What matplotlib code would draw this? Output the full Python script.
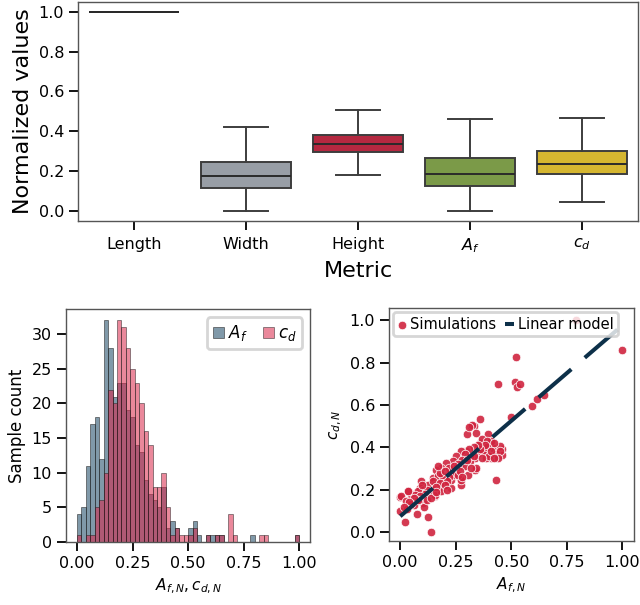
import numpy as np
import matplotlib
matplotlib.use("Agg")
import matplotlib.pyplot as plt

###############################################################
# Data
###############################################################

# Top panel: box statistics of the normalized metrics
metrics = ["Length", "Width", "Height", "$A_f$", "$c_d$"]
box_whislo = [1.0, 0.000, 0.182, 0.000, 0.044]
box_q1 = [1.0, 0.117, 0.295, 0.125, 0.187]
box_med = [1.0, 0.174, 0.337, 0.184, 0.235]
box_q3 = [1.0, 0.247, 0.381, 0.264, 0.300]
box_whishi = [1.0, 0.420, 0.509, 0.461, 0.467]
box_colors = ["#9a9a9a", "#989ea6", "#b52840", "#7b9a48", "#d5b630"]

# Bottom left: histogram counts, 50 bins of width 0.02 on [0, 1]
hist_edges = np.linspace(0.0, 1.0, 51)
af_counts = [4, 5, 11, 17, 18, 12, 32, 28, 21, 23,
             23, 19, 18, 14, 13, 9, 7, 6, 5, 8,
             2, 3, 2, 0, 0, 2, 3, 1, 0, 1,
             1, 1, 1, 0, 0, 0, 0, 0, 0, 1,
             0, 0, 0, 0, 0, 0, 0, 0, 0, 1]
cd_counts = [1, 0, 1, 1, 5, 6, 10, 22, 20, 32,
             31, 28, 25, 23, 20, 16, 14, 8, 8, 10,
             5, 1, 2, 1, 1, 1, 2, 0, 0, 1,
             0, 1, 1, 0, 4, 1, 0, 0, 0, 0,
             0, 1, 1, 0, 0, 0, 0, 0, 0, 1]

# Bottom right: simulations (A_f,N vs c_d,N) and the linear model
sim_af = [0.137, 0.0, 0.0, 0.02, 0.074, 0.126, 0.43, 0.44, 0.52, 0.516, 0.526, 0.541,
          0.50, 0.591, 0.617, 0.648, 0.79, 1.0, 0.358, 0.30, 0.32, 0.334, 0.34, 0.393,
          0.323, 0.308, 0.456, 0.441, 0.403, 0.380, 0.358, 0.35, 0.335, 0.41, 0.388,
          0.298, 0.275, 0.252, 0.29, 0.313, 0.335, 0.268, 0.237, 0.207, 0.185, 0.162,
          0.23, 0.268, 0.275, 0.23, 0.193, 0.177, 0.147, 0.17, 0.14, 0.155, 0.125,
          0.117, 0.095, 0.072, 0.087, 0.05, 0.034, 0.004, 0.027, 0.064, 0.102,
          0.418, 0.407, 0.373, 0.313, 0.222, 0.252, 0.275, 0.23, 0.2, 0.17, 0.155,
          0.102, 0.08, 0.065, 0.037, 0.027, 0.058, 0.087, 0.125, 0.155, 0.185, 0.109,
          0.29, 0.305, 0.237, 0.147, 0.343, 0.46, 0.448,
          0.37, 0.39, 0.42, 0.40, 0.43, 0.45, 0.39, 0.38, 0.44, 0.41, 0.42, 0.36,
          0.35, 0.33, 0.31, 0.29, 0.28, 0.26, 0.25, 0.24, 0.22, 0.21, 0.19, 0.18,
          0.16, 0.13, 0.12, 0.11, 0.09, 0.08, 0.06, 0.05, 0.04, 0.03, 0.015, 0.1,
          0.12, 0.14, 0.2, 0.22, 0.26, 0.3, 0.32, 0.27, 0.24, 0.18, 0.17, 0.2,
          0.21, 0.16, 0.28, 0.33, 0.37]
sim_cd = [0.0, 0.10, 0.165, 0.045, 0.085, 0.07, 0.247, 0.70, 0.828, 0.707, 0.683, 0.70,
          0.543, 0.593, 0.628, 0.645, 1.0, 0.861, 0.534, 0.462, 0.50, 0.50, 0.468, 0.463,
          0.504, 0.494, 0.392, 0.365, 0.412, 0.373, 0.420, 0.373, 0.349, 0.349, 0.349,
          0.381, 0.381, 0.357, 0.341, 0.334, 0.294, 0.31, 0.334, 0.326, 0.302, 0.294,
          0.294, 0.255, 0.224, 0.208, 0.224, 0.255, 0.255, 0.2, 0.2, 0.168, 0.224,
          0.168, 0.239, 0.184, 0.208, 0.161, 0.192, 0.168, 0.129, 0.129, 0.137,
          0.396, 0.428, 0.381, 0.357, 0.279, 0.279, 0.247, 0.247, 0.247, 0.263, 0.224,
          0.2, 0.192, 0.176, 0.192, 0.145, 0.145, 0.153, 0.168, 0.176, 0.192, 0.12,
          0.31, 0.27, 0.294, 0.24, 0.302, 0.362, 0.405,
          0.44, 0.43, 0.42, 0.36, 0.37, 0.38, 0.40, 0.41, 0.35, 0.38, 0.35, 0.39,
          0.41, 0.40, 0.39, 0.37, 0.34, 0.32, 0.30, 0.27, 0.26, 0.24, 0.27, 0.23,
          0.21, 0.19, 0.20, 0.18, 0.17, 0.15, 0.16, 0.13, 0.14, 0.11, 0.12, 0.22,
          0.15, 0.16, 0.22, 0.30, 0.27, 0.34, 0.30, 0.29, 0.31, 0.28, 0.31, 0.29,
          0.20, 0.19, 0.26, 0.36, 0.35]
model_intercept = 0.074
model_slope = 0.902
model_x = [0.0, 1.0]

###############################################################
# Style
###############################################################
plt.rcParams["font.family"] = ["DejaVu Sans"]
spine_color = "#555555"


def style_axes(ax, labelsize):
    for s in ax.spines.values():
        s.set_color(spine_color)
        s.set_linewidth(1.0)
    ax.tick_params(axis="both", direction="out", length=6.5, width=1.3,
                   color="black", labelsize=labelsize)


fig = plt.figure(figsize=(6.4, 6.05), dpi=100)
ax_top = fig.add_axes([0.122, 0.635, 0.875, 0.362])
ax_hist = fig.add_axes([0.103, 0.104, 0.382, 0.385])
ax_sc = fig.add_axes([0.608, 0.105, 0.382, 0.386])

###############################################################
# Top: box plot
###############################################################
stats = []
for i in range(len(metrics)):
    stats.append(dict(label=metrics[i], med=box_med[i], q1=box_q1[i], q3=box_q3[i],
                      whislo=box_whislo[i], whishi=box_whishi[i]))

bp = ax_top.bxp(stats, positions=range(len(metrics)), widths=0.8, capwidths=0.4,
                patch_artist=True, showfliers=False,
                boxprops=dict(edgecolor="#3d3d3d", linewidth=1.4),
                medianprops=dict(color="#2a2a2a", linewidth=1.4),
                whiskerprops=dict(color="#3d3d3d", linewidth=1.4),
                capprops=dict(color="#3d3d3d", linewidth=1.4))
for patch, c in zip(bp["boxes"], box_colors):
    patch.set_facecolor(c)

ax_top.set_xlim(-0.5, len(metrics) - 0.5)
ax_top.set_ylim(-0.05, 1.05)
ax_top.set_yticks(np.arange(0, 1.01, 0.2))
ax_top.yaxis.set_major_formatter(matplotlib.ticker.FormatStrFormatter("%.1f"))
style_axes(ax_top, 11.5)
ax_top.tick_params(axis="x", pad=5)
ax_top.set_xlabel("Metric", fontsize=16)
ax_top.set_ylabel("Normalized values", fontsize=16)

###############################################################
# Bottom left: histograms
###############################################################
bin_centers = 0.5 * (hist_edges[:-1] + hist_edges[1:])
ax_hist.hist(bin_centers, bins=hist_edges, weights=af_counts, color="#2b5670",
             alpha=0.6, edgecolor="#1a1a1a", linewidth=0.6, label="$A_f$")
ax_hist.hist(bin_centers, bins=hist_edges, weights=cd_counts, color="#d9264a",
             alpha=0.55, edgecolor="#1a1a1a", linewidth=0.6, label="$c_d$")
ax_hist.set_xticks([0, 0.25, 0.5, 0.75, 1.0])
ax_hist.set_yticks([0, 5, 10, 15, 20, 25, 30])
style_axes(ax_hist, 11.5)
ax_hist.set_xlabel("$A_{f,N}, c_{d,N}$", fontsize=11)
ax_hist.set_ylabel("Sample count", fontsize=12)
leg = ax_hist.legend(loc="upper right", ncol=2, fontsize=12, handlelength=0.7,
                     handleheight=0.7, handletextpad=0.2, columnspacing=0.9,
                     borderpad=0.35, edgecolor="#cccccc", framealpha=0.8)
leg.get_frame().set_linewidth(2.0)

###############################################################
# Bottom right: scatter + linear model
###############################################################
ax_sc.scatter(sim_af, sim_cd, s=38, color="#d0243f", alpha=0.9,
              edgecolor="white", linewidth=0.6, label="Simulations", zorder=2)
mx = np.array(model_x)
ax_sc.plot(mx, model_intercept + model_slope * mx, color="#0d3049", linewidth=2.9,
           dashes=(10.7, 4.4), label="Linear model", zorder=3)
ax_sc.set_xticks([0, 0.25, 0.5, 0.75, 1.0])
ax_sc.set_yticks([0, 0.2, 0.4, 0.6, 0.8, 1.0])
ax_sc.set_xlim(-0.05, 1.05)
ax_sc.set_ylim(-0.045, 1.058)
style_axes(ax_sc, 11.5)
ax_sc.set_xlabel("$A_{f,N}$", fontsize=11)
ax_sc.set_ylabel("$c_{d,N}$", fontsize=11)
leg2 = ax_sc.legend(loc="upper left", ncol=2, fontsize=10.5, handlelength=0.6,
                    handletextpad=0.25, columnspacing=0.6, borderpad=0.3,
                    borderaxespad=0.3, edgecolor="#cccccc", framealpha=0.8)
leg2.get_frame().set_linewidth(2.0)

fig.savefig("out.png", dpi=100)
